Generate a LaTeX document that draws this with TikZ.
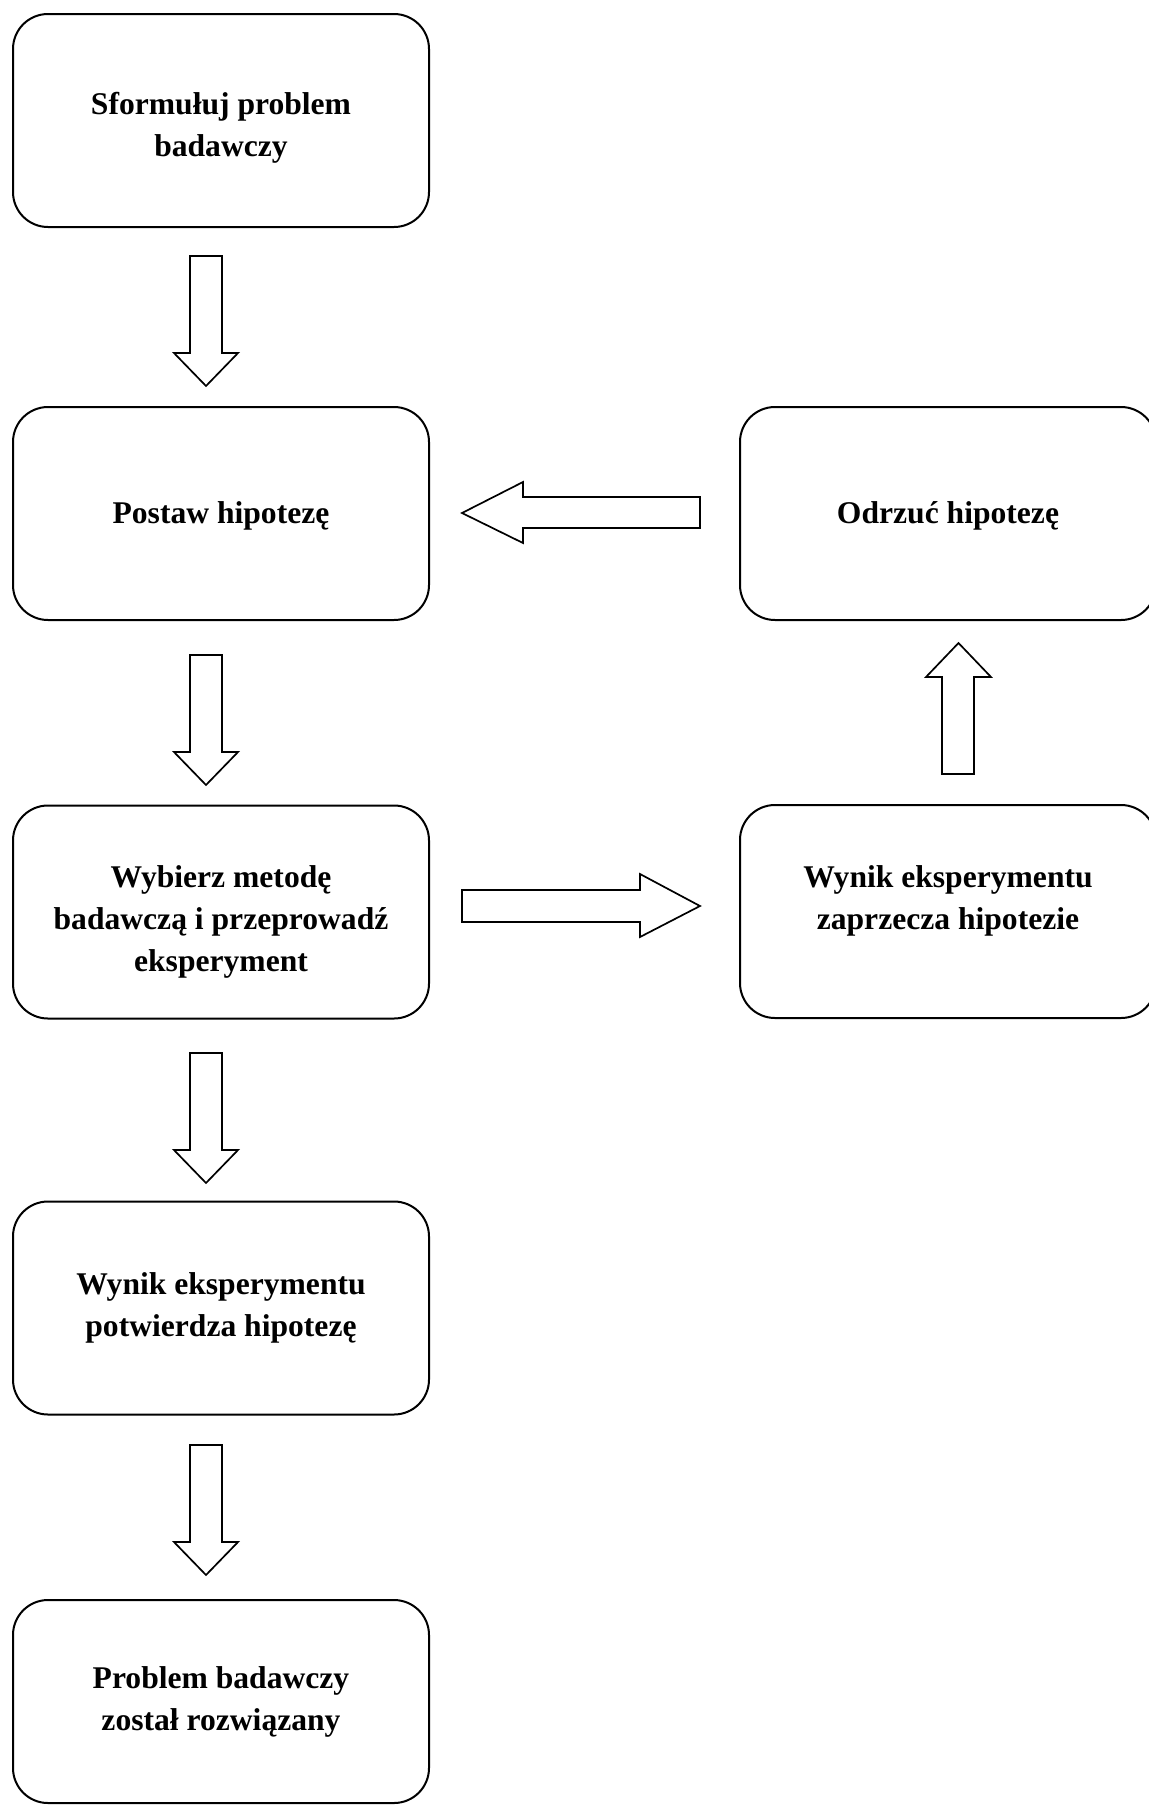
\documentclass[tikz,border=0pt]{standalone}
\usepackage{fontspec}
\setmainfont{Liberation Serif}
\begin{document}
\begin{tikzpicture}[x=0.5pt,y=-0.5pt,
  box/.style={draw, line width=1pt, rounded corners=17.5pt, minimum width=208pt,
    minimum height=106.5pt, inner sep=0pt},
  txt/.style={align=center, inner sep=0pt,
    font=\fontsize{15.8pt}{21pt}\selectfont\bfseries},
  blockarrow/.style={draw, line width=0.85pt, line join=miter, fill=white}]
\useasboundingbox (0,0) rectangle (1149,1805);

% boxes
\node[box] (b1) at (221,120.5) {};
\node[box] (b2) at (221,513.5) {};
\node[box] (b3) at (221,912) {};
\node[box] (b4) at (221,1308) {};
\node[box, minimum height=101.5pt] (b5) at (221,1701.5) {};
\node[box] (r1) at (948,513.5) {};
\node[box] (r2) at (948,911.5) {};

% texts
\node[txt] (t1) at ([yshift=-3.5pt]b1.center) {Sformułuj problem\\badawczy};
\node[txt] (t2) at ([yshift=-1pt]b2.center) {Postaw hipotezę};
\node[txt] (t3) at ([yshift=-5pt]b3.center) {Wybierz metodę\\badawczą i przeprowadź\\eksperyment};
\node[txt] (t4) at (b4.center) {Wynik eksperymentu\\potwierdza hipotezę};
\node[txt] (t5) at (b5.center) {Problem badawczy\\został rozwiązany};
\node[txt] (t6) at ([yshift=-1pt]r1.center) {Odrzuć hipotezę};
\node[txt] (t7) at ([yshift=5.5pt]r2.center) {Wynik eksperymentu\\zaprzecza hipotezie};

% down block arrows (start coordinates)
\coordinate (d1) at (206,256);
\coordinate (d2) at (206,655);
\coordinate (d3) at (206,1053);
\coordinate (d4) at (206,1445);
\foreach \c in {d1,d2,d3,d4}{
  \draw[blockarrow] (\c) ++(-16,0) -- ++(32,0) -- ++(0,97) -- ++(16,0)
     -- ++(-32,33) -- ++(-32,-33) -- ++(16,0) -- cycle;
}

% right arrow: from b3 towards r2
\coordinate (ra) at (462,906);
\draw[blockarrow] (ra) ++(0,-16) -- ++(178,0) -- ++(0,-16) -- ++(60,32)
   -- ++(-60,31) -- ++(0,-15) -- ++(-178,0) -- cycle;

% up arrow: from r2 towards r1
\coordinate (ua) at (958,774);
\draw[blockarrow] (ua) ++(-16,0) -- ++(0,-97) -- ++(-16,0) -- ++(32.5,-34)
   -- ++(32.5,34) -- ++(-17,0) -- ++(0,97) -- cycle;

% left arrow: from r1 towards b2
\coordinate (la) at (700,512);
\draw[blockarrow] (la) ++(0,-15) -- ++(-177,0) -- ++(0,-15) -- ++(-61,31)
   -- ++(61,30) -- ++(0,-15) -- ++(177,0) -- cycle;
\end{tikzpicture}
\end{document}
